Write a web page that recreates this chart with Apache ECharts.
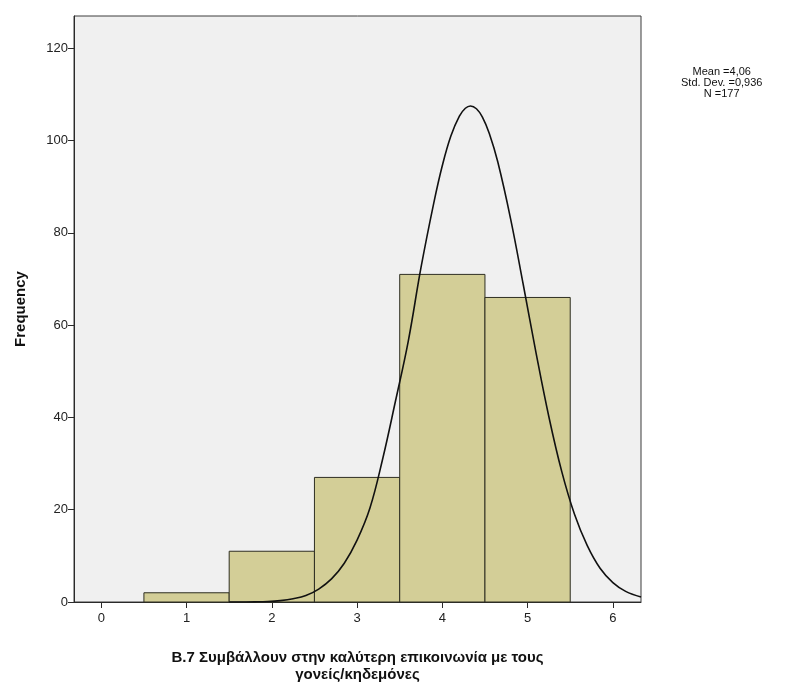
<!DOCTYPE html>
<html>
<head>
<meta charset="utf-8">
<script src="https://cdn.jsdelivr.net/npm/echarts@6/dist/echarts.min.js"></script>
<style>
  html, body { margin: 0; padding: 0; background: #ffffff; }
  #chart { width: 802px; height: 688px; }
</style>
</head>
<body>
<div id="chart"></div>
<script>
// Histogram bins (centre value) and their frequencies
const binCenters = [1, 2, 3, 4, 5];
const frequencies = [2, 11, 27, 71, 66];

// Fitted normal curve, sampled points [x, frequency]
const curveX = [1.5, 1.65, 1.8, 1.95, 2.1, 2.25, 2.4, 2.55, 2.7, 2.85, 3.0, 3.15, 3.3, 3.45, 3.6, 3.75, 3.9, 4.0, 4.1, 4.2, 4.27, 4.33, 4.4, 4.47, 4.55, 4.65, 4.8, 4.95, 5.1, 5.25, 5.4, 5.55, 5.7, 5.85, 6.0, 6.15, 6.33];
const curveY = [0.0, 0.01, 0.03, 0.1, 0.3, 0.7, 1.4, 2.8, 5.0, 8.4, 13.4, 20.3, 31.0, 43.5, 56.5, 72.5, 86.5, 94.6, 101.0, 105.3, 107.0, 107.5, 106.9, 105.1, 101.6, 95.4, 83.1, 68.7, 53.9, 40.1, 28.3, 19.0, 12.2, 7.3, 4.2, 2.3, 1.1];

// Axis tick labels
const xTicks = [0, 1, 2, 3, 4, 5, 6];
const yTicks = [0, 20, 40, 60, 80, 100, 120];

// Summary statistics shown beside the plot
const statsLines = ['Mean =4,06', 'Std. Dev. =0,936', 'N =177'];

const xTitle = 'B.7 Συμβάλλουν στην καλύτερη επικοινωνία με τους\nγονείς/κηδεμόνες';
const yTitle = 'Frequency';

const barData = binCenters.map((c, i) => [c, frequencies[i]]);
const curveData = curveX.map((x, i) => [x, curveY[i]]);

const chart = echarts.init(document.getElementById('chart'), null, { renderer: 'canvas' });

const fontFamily = 'Liberation Sans, Arial, sans-serif';

chart.setOption({
  animation: false,
  backgroundColor: '#ffffff',
  grid: {
    left: 74, right: 161, top: 16, bottom: 86,
    show: true,
    backgroundColor: '#f0f0f0',
    borderColor: '#3c3c3c',
    borderWidth: 1
  },
  xAxis: {
    type: 'value',
    min: -0.32,
    max: 6.33,
    splitLine: { show: false },
    axisLine: { show: true, onZero: false, lineStyle: { color: '#2a2a2a', width: 1 } },
    axisTick: {
      show: true, length: 6, inside: false,
      customValues: xTicks,
      lineStyle: { color: '#2a2a2a', width: 1 }
    },
    axisLabel: {
      customValues: xTicks,
      color: '#222222', fontSize: 13, fontFamily: fontFamily, margin: 10
    },
    name: xTitle,
    nameLocation: 'middle',
    nameGap: 47,
    nameTextStyle: {
      color: '#111111', fontSize: 15, fontWeight: 'bold', fontFamily: fontFamily,
      lineHeight: 17, align: 'center', verticalAlign: 'top'
    }
  },
  yAxis: {
    type: 'value',
    min: 0,
    max: 127,
    splitLine: { show: false },
    axisLine: { show: true, onZero: false, lineStyle: { color: '#2a2a2a', width: 1 } },
    axisTick: {
      show: true, length: 6, inside: false,
      customValues: yTicks,
      lineStyle: { color: '#2a2a2a', width: 1 }
    },
    axisLabel: {
      customValues: yTicks,
      color: '#222222', fontSize: 13, fontFamily: fontFamily, margin: 6
    },
    name: yTitle,
    nameLocation: 'middle',
    nameGap: 46,
    nameRotate: 90,
    nameTextStyle: {
      color: '#111111', fontSize: 15, fontWeight: 'bold', fontFamily: fontFamily
    }
  },
  graphic: [{
    type: 'text',
    left: 681,
    top: 66,
    style: {
      text: statsLines.join('\n'),
      fill: '#111111',
      font: '11px ' + fontFamily,
      lineHeight: 11,
      textAlign: 'center',
      align: 'center'
    }
  }],
  series: [
    {
      type: 'custom',
      name: 'bins',
      data: barData,
      encode: { x: 0, y: 1 },
      renderItem: function (params, api) {
        const c = api.value(0);
        const v = api.value(1);
        const p0 = api.coord([c - 0.5, v]);
        const p1 = api.coord([c + 0.5, 0]);
        return {
          type: 'rect',
          shape: { x: p0[0], y: p0[1], width: p1[0] - p0[0], height: p1[1] - p0[1] },
          style: { fill: '#d3ce97', stroke: '#2e2e22', lineWidth: 1 }
        };
      },
      z: 2
    },
    {
      type: 'line',
      name: 'normal',
      data: curveData,
      smooth: 0.4,
      showSymbol: false,
      lineStyle: { color: '#111111', width: 1.6 },
      z: 3
    }
  ]
});
</script>
</body>
</html>
